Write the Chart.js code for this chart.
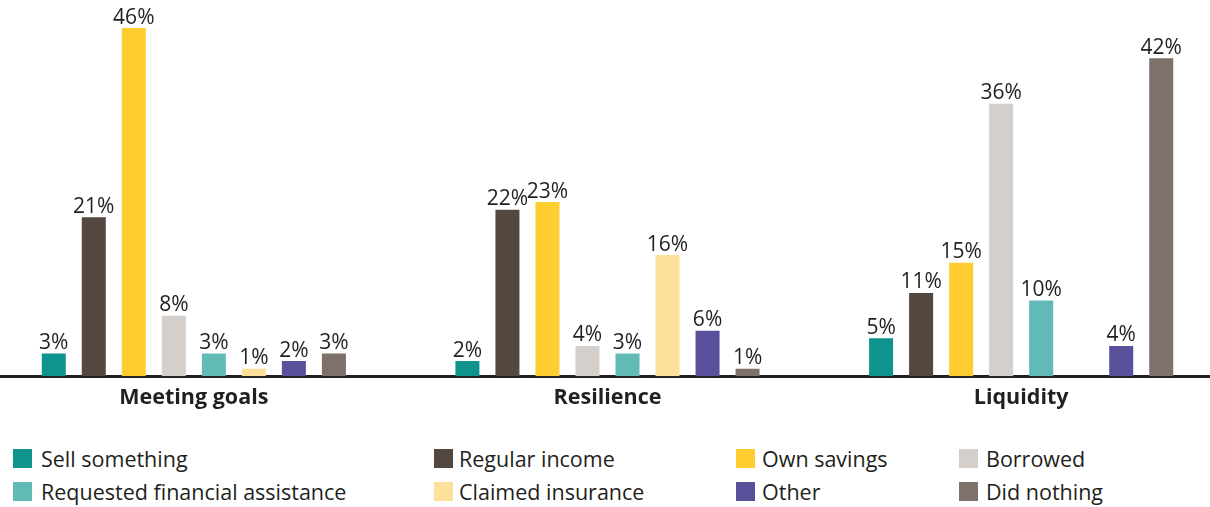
<!DOCTYPE html>
<html>
<head>
<meta charset="utf-8">
<script src="https://cdn.jsdelivr.net/npm/chart.js@4.4.0/dist/chart.umd.min.js"></script>
<style>
  html, body { margin: 0; padding: 0; background: #fff; overflow: hidden; }
  body { width: 1210px; height: 507px; position: relative; font-family: 'Open Sans', sans-serif; }
  #wrap { position: absolute; left: -13px; top: 0; width: 1241px; height: 420px; }
  .legend { position: absolute; left: 0; top: 0; width: 1210px; }
  .item { position: absolute; display: flex; align-items: center; font-size: 21.5px; color: #231f20; white-space: nowrap; }
  .item span.box { display: inline-block; width: 19px; height: 19px; }
</style>
</head>
<body>
<div id="wrap"><canvas id="myChart"></canvas></div>
<div class="legend" id="legend"></div>
<script>
const categories = ['Meeting goals', 'Resilience', 'Liquidity'];
const seriesNames = ['Sell something', 'Regular income', 'Own savings', 'Borrowed',
  'Requested financial assistance', 'Claimed insurance', 'Other', 'Did nothing'];

// percentages per category, in the order of the categories above
const sellSomething = [3, 2, 5];
const regularIncome = [21, 22, 11];
const ownSavings = [46, 23, 15];
const borrowed = [8, 4, 36];
const requestedAssistance = [3, 3, 10];
const claimedInsurance = [1, 16, null];
const other = [2, 6, 4];
const didNothing = [3, 1, 42];

const seriesValues = [sellSomething, regularIncome, ownSavings, borrowed,
  requestedAssistance, claimedInsurance, other, didNothing];
const seriesColors = ['#0f948d', '#53473f', '#fecd2f', '#d4cfcb',
  '#62bab7', '#fde099', '#59509b', '#7e706b'];

// legend layout: 4 columns x 2 rows
const legendCols = [13, 434, 736, 959];
const legendGaps = [9, 6, 7, 8];
const legendRows = [444, 477];

const legend = document.getElementById('legend');
seriesNames.forEach(function(name, i) {
  const col = i % 4;
  const el = document.createElement('div');
  el.className = 'item';
  el.style.left = legendCols[col] + 'px';
  el.style.top = legendRows[Math.floor(i / 4)] + 'px';
  el.innerHTML = '<span class="box" style="background:' + seriesColors[i] +
    ';margin-right:' + legendGaps[col] + 'px"></span>' + name;
  legend.appendChild(el);
});

// writes "n%" above every bar
const valueLabels = {
  id: 'valueLabels',
  afterDatasetsDraw(chart) {
    const ctx = chart.ctx;
    ctx.save();
    ctx.font = "21px 'Open Sans'";
    ctx.fillStyle = '#231f20';
    ctx.textAlign = 'center';
    ctx.textBaseline = 'alphabetic';
    chart.data.datasets.forEach(function(ds, i) {
      chart.getDatasetMeta(i).data.forEach(function(bar, j) {
        const v = ds.data[j];
        if (v === null || v === undefined) return;
        ctx.fillText(v + '%', bar.x, bar.y - 4.5);
      });
    });
    ctx.restore();
  }
};

const ctx = document.getElementById('myChart').getContext('2d');
const myChart = new Chart(ctx, {
  type: 'bar',
  data: {
    labels: categories,
    datasets: seriesNames.map(function(name, i) {
      return {
        label: name,
        data: seriesValues[i],
        backgroundColor: seriesColors[i],
        categoryPercentage: 0.774,
        barPercentage: 0.6
      };
    })
  },
  options: {
    responsive: true,
    maintainAspectRatio: false,
    animation: false,
    layout: { padding: 0 },
    plugins: {
      legend: { display: false },
      tooltip: { enabled: false }
    },
    scales: {
      x: {
        grid: { display: false, drawTicks: false },
        border: { display: true, color: '#231f20', width: 3 },
        ticks: {
          color: '#231f20',
          padding: 9,
          font: { family: "'Open Sans'", size: 21.5, weight: 'bold' }
        }
      },
      y: {
        display: false,
        min: 0,
        max: 49.7
      }
    }
  },
  plugins: [valueLabels]
});
</script>
</body>
</html>
